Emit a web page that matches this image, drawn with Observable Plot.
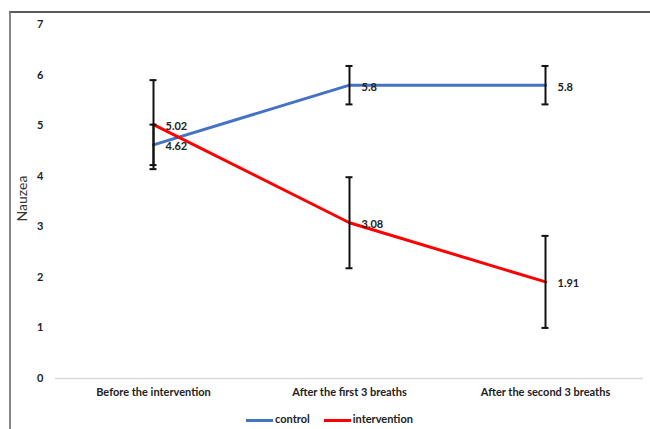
<!DOCTYPE html>
<html>
<head>
<meta charset="utf-8">
<script src="https://cdn.jsdelivr.net/npm/d3@7"></script>
<script src="https://cdn.jsdelivr.net/npm/@observablehq/plot@0.6"></script>
<style>
  body { margin: 0; background: #fff; }
  #wrap { position: relative; width: 650px; height: 429px; overflow: hidden; font-family: Lato, "Open Sans", sans-serif; }
  #frame { position: absolute; left: 9px; top: 11px; width: 650px; height: 430px; border-left: 2px solid #858585; border-top: 2px solid #5a5a5a; pointer-events: none; }
  #legend { position: absolute; left: 9px; width: 641px; top: 412px; text-align: center; font-size: 11px; font-weight: bold; color: #222; white-space: nowrap; }
  #legend span.sw { display: inline-block; width: 27px; height: 3px; vertical-align: middle; margin-right: 2px; }
  #legend span.item { margin: 0 7px; }
</style>
</head>
<body>
<div id="wrap"><div id="chart"></div><div id="legend"></div><div id="frame"></div></div>
<script>
const categories = ["Before the intervention", "After the first 3 breaths", "After the second 3 breaths"];
const seriesNames = ["control", "intervention"];
const controlMean = [4.62, 5.8, 5.8];
const controlErr = [0.40, 0.38, 0.38];
const interventionMean = [5.02, 3.08, 1.91];
const interventionErr = [0.88, 0.90, 0.91];
const yTicks = [0, 1, 2, 3, 4, 5, 6, 7];
const yLabel = "Nauzea";
const colors = ["#4472c4", "#ff0000"];

const rows = [];
categories.forEach((c, i) => {
  rows.push({cat: c, series: seriesNames[0], mean: controlMean[i], err: controlErr[i]});
  rows.push({cat: c, series: seriesNames[1], mean: interventionMean[i], err: interventionErr[i]});
});
rows.forEach(d => { d.lo = d.mean - d.err; d.hi = d.mean + d.err; });

const chart = Plot.plot({
  width: 650,
  height: 405,
  marginTop: 24,
  marginBottom: 27,
  marginLeft: 55,
  marginRight: 7,
  style: {fontFamily: "Lato, 'Open Sans', sans-serif", background: "transparent"},
  x: {domain: categories, padding: 0, label: null, tickSize: 0, tickPadding: 10},
  y: {domain: [0, 7], ticks: yTicks, tickFormat: d3.format("d"), tickSize: 0, tickPadding: 12, label: null},
  color: {domain: seriesNames, range: colors},
  marks: [
    Plot.ruleY([0], {stroke: "#d9d9d9", strokeWidth: 1.5}),
    Plot.line(rows, {x: "cat", y: "mean", z: "series", stroke: "series", strokeWidth: 3}),
    Plot.ruleX(rows, {x: "cat", y1: "lo", y2: "hi", stroke: "#111", strokeWidth: 2}),
    Plot.tickY(rows, {x: "cat", y: "lo", stroke: "#111", strokeWidth: 2, insetLeft: 94.5, insetRight: 94.5}),
    Plot.tickY(rows, {x: "cat", y: "hi", stroke: "#111", strokeWidth: 2, insetLeft: 94.5, insetRight: 94.5}),
    Plot.text(rows, {x: "cat", y: "mean", text: d => String(d.mean), textAnchor: "start", dx: 12, dy: 2, fontSize: 11, fontWeight: "bold", fill: "#222"}),
    Plot.text([yLabel], {frameAnchor: "left", text: d => d, rotate: -90, textAnchor: "middle", dx: -33, dy: -3, fontSize: 14, fontFamily: "Lato", fill: "#333"})
  ]
});
chart.querySelectorAll('[aria-label="x-axis tick label"] text, [aria-label="y-axis tick label"] text').forEach(t => { t.setAttribute("font-weight", "bold"); t.setAttribute("font-size", "11"); t.setAttribute("fill", "#222"); });
document.getElementById("chart").appendChild(chart);

const legend = document.getElementById("legend");
seriesNames.forEach((s, i) => {
  const item = document.createElement("span");
  item.className = "item";
  const sw = document.createElement("span");
  sw.className = "sw";
  sw.style.background = colors[i];
  item.appendChild(sw);
  item.appendChild(document.createTextNode(s));
  legend.appendChild(item);
});
</script>
</body>
</html>
